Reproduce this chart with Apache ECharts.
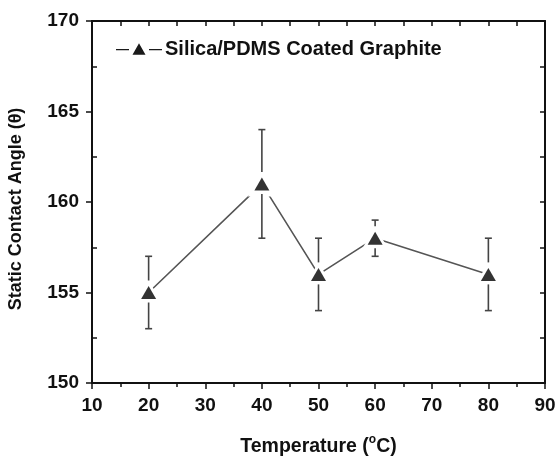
<!DOCTYPE html>
<html>
<head>
<meta charset="utf-8">
<script src="https://cdn.jsdelivr.net/npm/echarts@6/dist/echarts.min.js"></script>
<style>
  html, body { margin: 0; padding: 0; background: #fff; }
  #chart { width: 556px; height: 456px; }
</style>
</head>
<body>
<div id="chart"></div>
<script>
// data
var temperature = [20, 40, 50, 60, 80];
var angle = [155, 161, 156, 158, 156];
var errLow = [153, 158, 154, 157, 154];
var errHigh = [157, 164, 158, 159, 158];
var seriesName = "Silica/PDMS Coated Graphite";
var xTicks = { min: 10, max: 90, step: 10 };
var yTicks = { min: 150, max: 170, step: 5 };

var font = "'Liberation Sans', Arial, sans-serif";
var points = temperature.map(function (t, i) { return [t, angle[i]]; });
var bars = temperature.map(function (t, i) { return [t, errLow[i], errHigh[i], angle[i]]; });

var axisLine = { show: true, lineStyle: { color: "#111", width: 2 } };
var labelStyle = { color: "#111", fontFamily: font, fontWeight: "bold", fontSize: 19 };

var chart = echarts.init(document.getElementById("chart"));
var option = {
  animation: false,
  backgroundColor: "#fff",
  grid: { left: 92, top: 21, right: 11, bottom: 73, containLabel: false, outerBoundsMode: "none" },
  legend: {
    left: 111,
    top: 34,
    itemWidth: 46,
    itemHeight: 14,
    itemGap: 0,
    data: [{
      name: seriesName,
      icon: "path://M0,7.2h13v1.4h-13z M16.5,13 L23,1.5 L29.5,13 Z M33,7.2h13v1.4h-13z"
    }],
    itemStyle: { color: "#1a1a1a", borderWidth: 0 },
    textStyle: { color: "#111", fontFamily: font, fontWeight: "bold", fontSize: 20, padding: [0, 0, 0, -2] }
  },
  xAxis: [
    {
      type: "value", position: "bottom",
      min: xTicks.min, max: xTicks.max, interval: xTicks.step,
      name: "Temperature ({sup|o}C)",
      nameLocation: "middle", nameGap: 51,
      nameTextStyle: {
        color: "#111", fontFamily: font, fontWeight: "bold", fontSize: 19.5,
        rich: { sup: { fontSize: 12, fontWeight: "bold", fontFamily: font, color: "#111", padding: [0, 0, 14, 0] } }
      },
      axisLine: axisLine,
      axisTick: { show: true, inside: false, length: 6, lineStyle: { color: "#111", width: 1.5 } },
      minorTick: { show: true, splitNumber: 2, length: 4, lineStyle: { color: "#111", width: 1.5 } },
      axisLabel: Object.assign({ margin: 13 }, labelStyle),
      splitLine: { show: false }
    },
    {
      type: "value", position: "top",
      min: xTicks.min, max: xTicks.max, interval: xTicks.step,
      axisLine: axisLine,
      axisTick: { show: true, inside: true, length: 5, lineStyle: { color: "#111", width: 1.5 } },
      minorTick: { show: true, splitNumber: 2, length: 5, lineStyle: { color: "#111", width: 1.5 } },
      axisLabel: { show: false },
      splitLine: { show: false }
    }
  ],
  yAxis: [
    {
      type: "value", position: "left",
      min: yTicks.min, max: yTicks.max, interval: yTicks.step,
      name: "Static Contact Angle (\u03B8)",
      nameLocation: "middle", nameGap: 67,
      nameTextStyle: { color: "#111", fontFamily: font, fontWeight: "bold", fontSize: 18, padding: [0, 14, 0, 0] },
      axisLine: axisLine,
      axisTick: { show: true, inside: false, length: 6, lineStyle: { color: "#111", width: 1.5 } },
      axisLabel: Object.assign({ margin: 13 }, labelStyle),
      splitLine: { show: false }
    },
    {
      type: "value", position: "left",
      min: yTicks.min, max: yTicks.max, interval: yTicks.step,
      axisLine: { show: false },
      axisTick: { show: false, inside: true },
      minorTick: { show: true, splitNumber: 2, length: 5, lineStyle: { color: "#111", width: 1.5 } },
      axisLabel: { show: false },
      splitLine: { show: false }
    },
    {
      type: "value", position: "right",
      min: yTicks.min, max: yTicks.max, interval: yTicks.step,
      axisLine: axisLine,
      axisTick: { show: true, inside: true, length: 5, lineStyle: { color: "#111", width: 1.5 } },
      minorTick: { show: true, splitNumber: 2, length: 5, lineStyle: { color: "#111", width: 1.5 } },
      axisLabel: { show: false },
      splitLine: { show: false }
    }
  ],
  series: [
    {
      name: seriesName,
      type: "line",
      data: points,
      symbol: "none",
      itemStyle: { color: "#111" },
      lineStyle: { color: "#555", width: 1.6 },
      z: 2
    },
    {
      name: "halo",
      type: "scatter",
      data: points,
      symbol: "triangle",
      symbolSize: [28, 25],
      itemStyle: { color: "#fff", opacity: 1 },
      silent: true,
      z: 3
    },
    {
      name: "error",
      type: "custom",
      data: bars,
      z: 4,
      renderItem: function (params, api) {
        var x = api.value(0);
        var lo = api.coord([x, api.value(1)]);
        var hi = api.coord([x, api.value(2)]);
        var mid = api.coord([x, api.value(3)]);
        var cap = 3.5;
        var st = { stroke: "#444", lineWidth: 1.6 };
        return {
          type: "group",
          children: [
            { type: "line", shape: { x1: hi[0], y1: hi[1], x2: hi[0], y2: mid[1] - 12 }, style: st },
            { type: "line", shape: { x1: lo[0], y1: mid[1] + 10, x2: lo[0], y2: lo[1] }, style: st },
            { type: "line", shape: { x1: hi[0] - cap, y1: hi[1], x2: hi[0] + cap, y2: hi[1] }, style: st },
            { type: "line", shape: { x1: lo[0] - cap, y1: lo[1], x2: lo[0] + cap, y2: lo[1] }, style: st }
          ]
        };
      }
    },
    {
      name: "marker",
      type: "scatter",
      data: points,
      symbol: "triangle",
      symbolSize: [15, 13],
      itemStyle: { color: "#000" },
      z: 5
    }
  ]
};
option && chart.setOption(option);
</script>
</body>
</html>
